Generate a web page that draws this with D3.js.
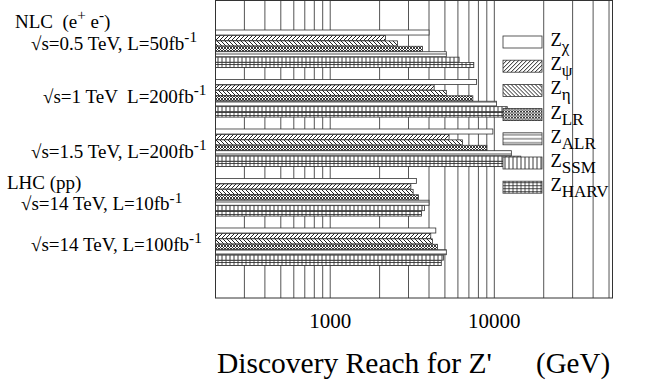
<!DOCTYPE html>
<html>
<head>
<meta charset="utf-8">
<script src="https://cdn.jsdelivr.net/npm/d3@7"></script>
<style>
  body { margin: 0; background: #fff; }
  text { font-family: "Liberation Serif", "Times New Roman", serif; fill: #000; white-space: pre; }
</style>
</head>
<body>
<div id="chart"></div>
<script>
// Z' discovery reach (GeV), NLC and LHC options

//### DATA ###
const groups = [ 'nlc05', 'nlc1', 'nlc15', 'lhc10', 'lhc100' ];
const series = [ 'chi', 'psi', 'eta', 'LR', 'ALR', 'SSM', 'HARV' ];
const seriesSubs = [ 'χ', 'ψ', 'η', 'LR', 'ALR', 'SSM', 'HARV' ];

// one value per group, in the order of `groups`
const reachChi  = [ 4000, 7800, 9800, 3350, 4400 ];
const reachPsi  = [ 2170, 4300, 5300, 3100, 4100 ];
const reachEta  = [ 2570, 5100, 6400, 3200, 4200 ];
const reachLR   = [ 3650, 7400, 9000, 3450, 4500 ];
const reachALR  = [ 5100, 10300, 12700, 4000, 5100 ];
const reachSSM  = [ 6100, 12000, 14500, 3750, 4900 ];
const reachHARV = [ 7500, 11500, 13500, 3600, 4750 ];
const reach = [ reachChi, reachPsi, reachEta, reachLR, reachALR, reachSSM, reachHARV ];

const tickLabels = [ 1000, 10000 ];

const groupLabels = [
  [ [ '√s=0.5 TeV, L=50fb', '' ], [ '-1', 'sup' ] ],
  [ [ '√s=1 TeV  L=200fb', '' ], [ '-1', 'sup' ] ],
  [ [ '√s=1.5 TeV, L=200fb', '' ], [ '-1', 'sup' ] ],
  [ [ '√s=14 TeV, L=10fb', '' ], [ '-1', 'sup' ] ],
  [ [ '√s=14 TeV, L=100fb', '' ], [ '-1', 'sup' ] ]
];
const headerLabels = [
  [ [ 'NLC  (e', '' ], [ '+', 'sup' ], [ ' e', '' ], [ '-', 'sup' ], [ ')', '' ] ],
  [ [ 'LHC (pp)', '' ] ]
];

//### LAYOUT ###
const width = 654, height = 383;
const plot = { left: 215.5, right: 612.5, top: 0.5, bottom: 298 };
const labelX = [ 31, 43, 31, 21, 31 ];
const labelDy = [ 1, 4, 10, 13, 4 ];
const headerPos = [ { x: 15, y: 28 }, { x: 7, y: 189 } ];

const svg = d3.select( '#chart' ).append( 'svg' )
  .attr( 'width', width )
  .attr( 'height', height );

//_____ PATTERNS _____
const defs = svg.append( 'defs' );
const ink = '#222';
function pattern ( id, w, h, paths, sw ) {
  const p = defs.append( 'pattern' )
    .attr( 'id', id )
    .attr( 'patternUnits', 'userSpaceOnUse' )
    .attr( 'width', w ).attr( 'height', h );
  p.append( 'rect' ).attr( 'width', w ).attr( 'height', h ).attr( 'fill', '#fff' );
  p.append( 'path' ).attr( 'd', paths ).attr( 'stroke', ink ).attr( 'stroke-width', sw ).attr( 'fill', 'none' );
}
pattern( 'p-psi', 4, 4, 'M-1,1 l2,-2 M0,4 l4,-4 M3,5 l2,-2', 1 );
pattern( 'p-eta', 4, 4, 'M-1,3 l2,2 M0,0 l4,4 M3,-1 l2,2', 1 );
pattern( 'p-LR', 3, 3, 'M0,0 l3,3 M0,3 l3,-3 M-1,2 l2,2 M2,-1 l2,2 M-1,1 l2,-2 M2,4 l2,-2', 0.9 );
pattern( 'p-ALR', 8, 4, 'M0,2 h8', 0.8 );
pattern( 'p-SSM', 4, 8, 'M2,0 v8', 0.9 );
pattern( 'p-HARV', 4, 3, 'M2,0 v3 M0,1.5 h4', 0.8 );
const fills = { chi: '#fff', psi: 'url(#p-psi)', eta: 'url(#p-eta)', LR: 'url(#p-LR)',
  ALR: 'url(#p-ALR)', SSM: 'url(#p-SSM)', HARV: 'url(#p-HARV)' };

//_____ SCALES _____
const x = d3.scaleLog().domain( [ 200, 52500 ] ).range( [ plot.left, plot.right ] );
const yGroup = d3.scaleBand().domain( groups ).range( [ 30, 266 ] ).paddingInner( 0.232 ).paddingOuter( 0 );
const ySeries = d3.scaleBand().domain( series ).range( [ 0, yGroup.bandwidth() ] );

//_____ GRID _____
const gridValues = x.ticks( 40 ).filter( v => v >= 200 && v <= 50000 );
svg.append( 'g' ).selectAll( 'line' )
  .data( gridValues ).enter().append( 'line' )
  .attr( 'x1', d => x( d ) ).attr( 'x2', d => x( d ) )
  .attr( 'y1', plot.top ).attr( 'y2', plot.bottom )
  .attr( 'stroke', '#555' ).attr( 'stroke-width', 1 );

//_____ BARS _____
const rows = [];
groups.forEach( ( g, gi ) => series.forEach( ( s, si ) => rows.push( { g, s, v: reach[ si ][ gi ] } ) ) );
svg.append( 'g' ).selectAll( 'rect' )
  .data( rows ).enter().append( 'rect' )
  .attr( 'x', plot.left )
  .attr( 'y', d => yGroup( d.g ) + ySeries( d.s ) )
  .attr( 'width', d => x( d.v ) - plot.left )
  .attr( 'height', ySeries.bandwidth() - 0.4 )
  .attr( 'fill', d => fills[ d.s ] )
  .attr( 'stroke', '#333' ).attr( 'stroke-width', 0.8 );

//_____ FRAME _____
svg.append( 'rect' )
  .attr( 'x', plot.left ).attr( 'y', plot.top )
  .attr( 'width', plot.right - plot.left ).attr( 'height', plot.bottom - plot.top )
  .attr( 'fill', 'none' ).attr( 'stroke', '#333' ).attr( 'stroke-width', 1 );

//_____ LEGEND _____
const legend = svg.append( 'g' ).attr( 'transform', 'translate(503,36)' );
const legendItem = legend.selectAll( 'g' )
  .data( series ).enter().append( 'g' )
  .attr( 'transform', ( d, i ) => `translate(0,${i * 24.2})` );
legendItem.append( 'rect' )
  .attr( 'width', 39 ).attr( 'height', 12 )
  .attr( 'fill', d => fills[ d ] )
  .attr( 'stroke', '#333' ).attr( 'stroke-width', 0.8 );
const legendText = legendItem.append( 'text' )
  .attr( 'x', 47.5 ).attr( 'y', 10 )
  .style( 'font-size', '18.5px' );
legendText.append( 'tspan' ).text( 'Z' );
legendText.append( 'tspan' )
  .attr( 'dy', 6 )
  .style( 'font-size', '17px' )
  .text( ( d, i ) => seriesSubs[ i ] );

//_____ LEFT LABELS _____
function appendRich ( t, parts, fs ) {
  let shift = 0;
  parts.forEach( ( [ s, kind ] ) => {
    const target = kind === 'sup' ? -0.4 * fs : 0;
    t.append( 'tspan' )
      .attr( 'dy', target - shift )
      .style( 'font-size', ( kind ? 0.8 * fs : fs ) + 'px' )
      .text( s );
    shift = target;
  } );
}
const labelFont = 19;
groups.forEach( ( g, gi ) => {
  const t = svg.append( 'text' )
    .attr( 'x', labelX[ gi ] )
    .attr( 'y', yGroup( g ) + yGroup.bandwidth() / 2 + labelDy[ gi ] );
  appendRich( t, groupLabels[ gi ], labelFont );
} );
headerLabels.forEach( ( parts, i ) => {
  const t = svg.append( 'text' ).attr( 'x', headerPos[ i ].x ).attr( 'y', headerPos[ i ].y );
  appendRich( t, parts, labelFont );
} );

//_____ AXIS LABELS _____
svg.append( 'g' ).selectAll( 'text' )
  .data( tickLabels ).enter().append( 'text' )
  .attr( 'x', d => x( d ) ).attr( 'y', 328 )
  .attr( 'text-anchor', 'middle' )
  .style( 'font-size', '21px' )
  .text( d => d );

svg.append( 'text' ).attr( 'x', 217 ).attr( 'y', 373 ).style( 'font-size', '29.5px' ).text( "Discovery Reach for Z'" );
svg.append( 'text' ).attr( 'x', 536 ).attr( 'y', 373 ).style( 'font-size', '29px' ).text( '(GeV)' );
</script>
</body>
</html>
